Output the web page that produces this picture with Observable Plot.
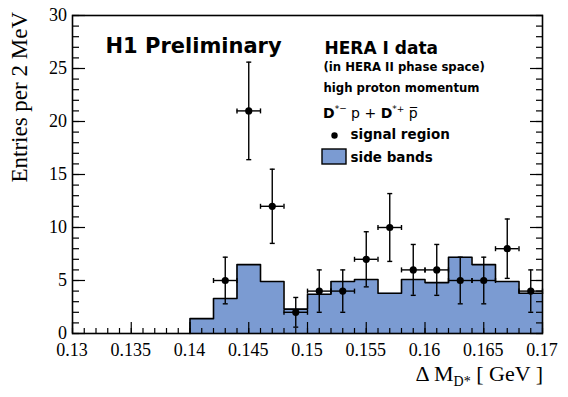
<!DOCTYPE html>
<html><head><meta charset="utf-8">
<script src="https://cdn.jsdelivr.net/npm/d3@7"></script>
<script src="https://cdn.jsdelivr.net/npm/@observablehq/plot@0.6"></script>
<style>body{margin:0;background:#fff;} svg{display:block;}</style>
</head><body><div id="chart"></div>
<script>
// ---- data ----
const binLeftEdges = [0.140,0.142,0.144,0.146,0.148,0.150,0.152,0.154,0.156,0.158,0.160,0.162,0.164,0.166,0.168];
const sideBands   = [1.4, 3.3, 6.5, 4.9, 2.3, 3.7, 4.9, 5.1, 3.8, 5.1, 4.8, 7.2, 6.5, 4.9, 3.8];
const histEnd = 0.170;
const signalX   = [0.143,0.145,0.147,0.149,0.151,0.153,0.155,0.157,0.159,0.161,0.163,0.165,0.167,0.169];
const signalY   = [5, 21, 12, 2, 4, 4, 7, 10, 6, 6, 5, 5, 8, 4];
const signalErr = [2.2, 4.6, 3.5, 1.4, 2.0, 2.0, 2.6, 3.2, 2.4, 2.4, 2.2, 2.2, 2.8, 2.0];
const binHalfWidth = 0.001;
const xMajorTicks = [0.13,0.135,0.14,0.145,0.15,0.155,0.16,0.165,0.17];
const xTickLabels = ["0.13","0.135","0.14","0.145","0.15","0.155","0.16","0.165","0.17"];
const yMajorTicks = [0,5,10,15,20,25,30];
const yTickLabels = ["0","5","10","15","20","25","30"];
const xMinorTicks = d3.range(41).map(i => +(0.13 + i*0.001).toFixed(3));
const yMinorTicks = d3.range(31);

const fillBlue = "#7b9bd2";
const serif = "Liberation Serif";
const sans = "DejaVu Sans";

const stepPts = binLeftEdges.map((x,i)=>({x, y: sideBands[i]})).concat([{x: histEnd, y: sideBands[sideBands.length-1]}]);
const outlinePts = [{x: binLeftEdges[0], y: 0}].concat(stepPts);
const signal = signalX.map((x,i)=>({x, y: signalY[i], e: signalErr[i]}));

const capH = {draw(c){ c.moveTo(-2.5,0); c.lineTo(2.5,0); }};
const capV = {draw(c){ c.moveTo(0,-2.5); c.lineTo(0,2.5); }};

const px2x = p => 0.13 + (p-72)/470*0.04;
const px2y = p => (333-p)/318*30;

const chart = Plot.plot({
  width: 568, height: 397,
  marginLeft: 72, marginRight: 26, marginTop: 15, marginBottom: 64,
  x: {domain: [0.13, 0.17]},
  y: {domain: [0, 30]},
  style: {background: "white", color: "black"},
  marks: [
    Plot.areaY(stepPts, {x: "x", y: "y", curve: "step-after", fill: fillBlue}),
    Plot.lineY(outlinePts, {x: "x", y: "y", curve: "step-after", stroke: "black", strokeWidth: 1.6}),
    // axes: inward ticks
    Plot.axisX(xMinorTicks, {anchor: "bottom", tickSize: -5, tickFormat: () => "", label: null, strokeWidth: 1.2}),
    Plot.axisX(xMajorTicks, {anchor: "bottom", tickSize: -11, tickFormat: () => "", label: null, strokeWidth: 1.2}),
    Plot.axisY(yMinorTicks, {anchor: "left", tickSize: -7, tickFormat: () => "", label: null, strokeWidth: 1.2}),
    Plot.axisY(yMajorTicks, {anchor: "left", tickSize: -13, tickFormat: () => "", label: null, strokeWidth: 1.2}),
    Plot.axisY(yMinorTicks, {anchor: "right", tickSize: -7, tickFormat: () => "", label: null, strokeWidth: 1.2}),
    Plot.axisY(yMajorTicks, {anchor: "right", tickSize: -13, tickFormat: () => "", label: null, strokeWidth: 1.2}),
    Plot.frame({stroke: "black", strokeWidth: 1.6}),
    // error bars
    Plot.ruleX(signal, {x: "x", y1: d => d.y - d.e, y2: d => d.y + d.e, stroke: "black", strokeWidth: 1.4}),
    Plot.ruleY(signal, {y: "y", x1: d => d.x - binHalfWidth, x2: d => d.x + binHalfWidth, stroke: "black", strokeWidth: 1.4}),
    Plot.dot(signal, {x: "x", y: d => d.y + d.e, symbol: capH, stroke: "black", strokeWidth: 1.4}),
    Plot.dot(signal, {x: "x", y: d => d.y - d.e, symbol: capH, stroke: "black", strokeWidth: 1.4}),
    Plot.dot(signal, {x: d => d.x - binHalfWidth, y: "y", symbol: capV, stroke: "black", strokeWidth: 1.4}),
    Plot.dot(signal, {x: d => d.x + binHalfWidth, y: "y", symbol: capV, stroke: "black", strokeWidth: 1.4}),
    Plot.dot(signal, {x: "x", y: "y", r: 3.6, fill: "black"}),
    // annotations
    Plot.text(["H1 Preliminary"], {frameAnchor: "top-left", dx: 105-72, dy: 52-15, lineAnchor: "bottom", textAnchor: "start", fontSize: 21, fontWeight: "bold", fontFamily: sans}),
    Plot.text(["HERA I data"], {frameAnchor: "top-left", dx: 324-72, dy: 53-15, lineAnchor: "bottom", textAnchor: "start", fontSize: 17, fontWeight: "bold", fontFamily: sans}),
    Plot.text(["(in HERA II phase space)"], {frameAnchor: "top-left", dx: 323-72, dy: 70-15, lineAnchor: "bottom", textAnchor: "start", fontSize: 11.7, fontWeight: "bold", fontFamily: sans}),
    Plot.text(["high proton momentum"], {frameAnchor: "top-left", dx: 323-72, dy: 91-15, lineAnchor: "bottom", textAnchor: "start", fontSize: 11.7, fontWeight: "bold", fontFamily: sans}),
    Plot.text(["signal region"], {frameAnchor: "top-left", dx: 350-72, dy: 138-15, lineAnchor: "bottom", textAnchor: "start", fontSize: 13.5, fontWeight: "bold", fontFamily: sans, letterSpacing: 0.5}),
    Plot.text(["side bands"], {frameAnchor: "top-left", dx: 350-72, dy: 161-15, lineAnchor: "bottom", textAnchor: "start", fontSize: 13.5, fontWeight: "bold", fontFamily: sans, letterSpacing: 0.5}),
    Plot.dot([0], {x: () => px2x(334), y: () => px2y(135), r: 3.2, fill: "black"}),
    Plot.rect([0], {x1: () => px2x(322), x2: () => px2x(346), y1: () => px2y(164), y2: () => px2y(149), fill: fillBlue, stroke: "black", strokeWidth: 1.4})
  ]
});

const svg = d3.select(chart);
const sx = chart.scale("x"), sy = chart.scale("y");

// tick labels (serif), positioned through Plot's scales
const xl = svg.append("g").attr("font-family", serif).attr("font-size", 18).attr("fill", "black").attr("text-anchor", "middle");
xMajorTicks.forEach((v, i) => xl.append("text").attr("x", sx.apply(v)).attr("y", 356).text(xTickLabels[i]));
const yl = svg.append("g").attr("font-family", serif).attr("font-size", 18).attr("fill", "black").attr("text-anchor", "end");
yMajorTicks.forEach((v, i) => yl.append("text").attr("x", 67).attr("y", sy.apply(v) + 6).text(yTickLabels[i]));

// D*- p + D*+ pbar
const dl = svg.append("text").attr("x", 323).attr("y", 118).attr("text-anchor", "start")
  .attr("font-family", sans).attr("font-size", 14).attr("fill", "black");
dl.append("tspan").attr("font-weight", "bold").text("D");
dl.append("tspan").attr("font-size", 9).attr("dy", -6).text("*");
dl.append("tspan").attr("font-size", 9).attr("dy", -1).text("\u2212");
dl.append("tspan").attr("dy", 7).text(" p + ");
dl.append("tspan").attr("font-weight", "bold").text("D");
dl.append("tspan").attr("font-size", 9).attr("dy", -6).text("*+");
dl.append("tspan").attr("dy", 6).text(" p\u0305");

// x title
const xt = svg.append("text").attr("x", 543).attr("y", 381).attr("text-anchor", "end")
  .attr("font-family", serif).attr("font-size", 22).attr("fill", "black");
xt.append("tspan").text("\u0394 M");
xt.append("tspan").attr("font-size", 14).attr("dy", 5).text("D*");
xt.append("tspan").attr("dy", -5).text(" [ GeV ]");

// y title
svg.append("text").attr("transform", "translate(27,12) rotate(-90)").attr("text-anchor", "end")
  .attr("font-family", serif).attr("font-size", 23).attr("fill", "black").text("Entries per 2 MeV");

document.getElementById("chart").appendChild(chart);
</script>
</body></html>
